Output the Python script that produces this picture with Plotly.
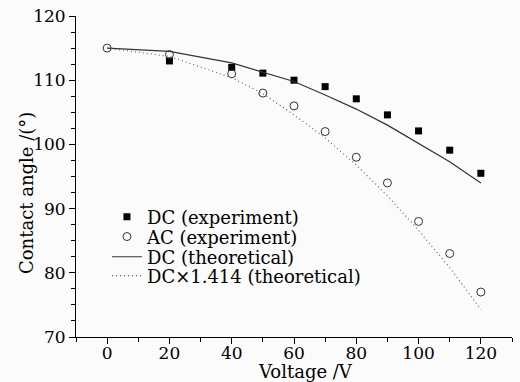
import plotly.graph_objects as go

voltage_dc = [20, 40, 50, 60, 70, 80, 90, 100, 110, 120]
dc_experiment = [113.0, 112.0, 111.1, 110.0, 109.0, 107.1, 104.6, 102.1, 99.1, 95.5]

voltage_ac = [0, 20, 40, 50, 60, 70, 80, 90, 100, 110, 120]
ac_experiment = [115.0, 114.0, 111.0, 108.0, 106.0, 102.0, 98.0, 94.0, 88.0, 83.0, 77.0]

voltage_theory = [0, 20, 40, 50, 60, 70, 80, 90, 100, 110, 120]
dc_theoretical = [115.0, 114.5, 112.7, 111.3, 109.8, 107.7, 105.5, 103.0, 100.2, 97.3, 94.0]
dc1414_theoretical = [115.0, 113.7, 110.4, 107.9, 104.6, 101.0, 96.8, 92.0, 86.6, 80.8, 74.3]

x_ticks = [0, 20, 40, 60, 80, 100, 120]
y_ticks = [70, 80, 90, 100, 110, 120]

FONT = "DejaVu Serif"
LEG_FS = 18
TICK_FS = 17

fig = go.Figure()
fig.add_trace(go.Scatter(
    x=voltage_dc, y=dc_experiment, mode="markers", name="DC (experiment)",
    marker=dict(symbol="square", size=7, color="black"), legend="legend",
))
fig.add_trace(go.Scatter(
    x=voltage_ac, y=ac_experiment, mode="markers", name="AC (experiment)",
    marker=dict(symbol="circle-open", size=8, color="#333333", line=dict(width=1)),
    legend="legend2",
))
fig.add_trace(go.Scatter(
    x=voltage_theory, y=dc_theoretical, mode="lines", name="DC (theoretical)",
    line=dict(color="#333333", width=1.2), legend="legend3",
))
fig.add_trace(go.Scatter(
    x=voltage_theory, y=dc1414_theoretical, mode="lines", name="DC\u00d71.414 (theoretical)",
    line=dict(color="#666666", width=1.2, dash="1px,3px"), legend="legend4",
))

def leg(yc):
    return dict(x=0.071, y=yc, xanchor="left", yanchor="middle",
                bgcolor="rgba(0,0,0,0)", font=dict(family=FONT, size=LEG_FS),
                itemwidth=30)

fig.update_layout(
    width=520, height=382,
    margin=dict(l=76, r=8, t=16, b=45),
    paper_bgcolor="#fbfbfb", plot_bgcolor="#fbfbfb",
    font=dict(family=FONT, size=TICK_FS, color="black"),
    showlegend=True,
    legend=leg(0.374),
    legend2=leg(0.312),
    legend3=leg(0.249),
    legend4=leg(0.190),
    xaxis=dict(
        range=[-10, 130], tickvals=x_ticks, ticktext=[str(v) for v in x_ticks],
        showline=True, linecolor="black", linewidth=1, mirror=False, automargin=False,
        ticks="outside", ticklen=6, tickcolor="black", showgrid=False, zeroline=False,
        minor=dict(dtick=10, tick0=0, ticklen=4, ticks="outside", tickcolor="black", showgrid=False),
        tickfont=dict(family=FONT, size=TICK_FS), ticklabelstandoff=-5,
    ),
    yaxis=dict(
        range=[70, 120], tickvals=y_ticks, ticktext=[str(v) for v in y_ticks],
        showline=True, linecolor="black", linewidth=1, mirror=False, automargin=False,
        ticks="outside", ticklen=6, tickcolor="black", showgrid=False, zeroline=False,
        minor=dict(dtick=2.5, tick0=70, ticklen=4, ticks="outside", tickcolor="black", showgrid=False),
        tickfont=dict(family=FONT, size=TICK_FS),
    ),
    annotations=[
        dict(text="Voltage /V", xref="paper", yref="paper", x=0.527, y=-0.108,
             xanchor="center", yanchor="middle", showarrow=False,
             font=dict(family=FONT, size=LEG_FS)),
        dict(text="Contact angle /(\u00b0)", xref="paper", yref="paper", x=-0.112, y=0.449,
             xanchor="center", yanchor="middle", showarrow=False, textangle=-90,
             font=dict(family=FONT, size=LEG_FS)),
    ],
)

fig.write_html(
    "out.html",
    config={"displayModeBar": False},
    post_script="document.body.style.margin='0';document.body.style.overflow='hidden';",
)
